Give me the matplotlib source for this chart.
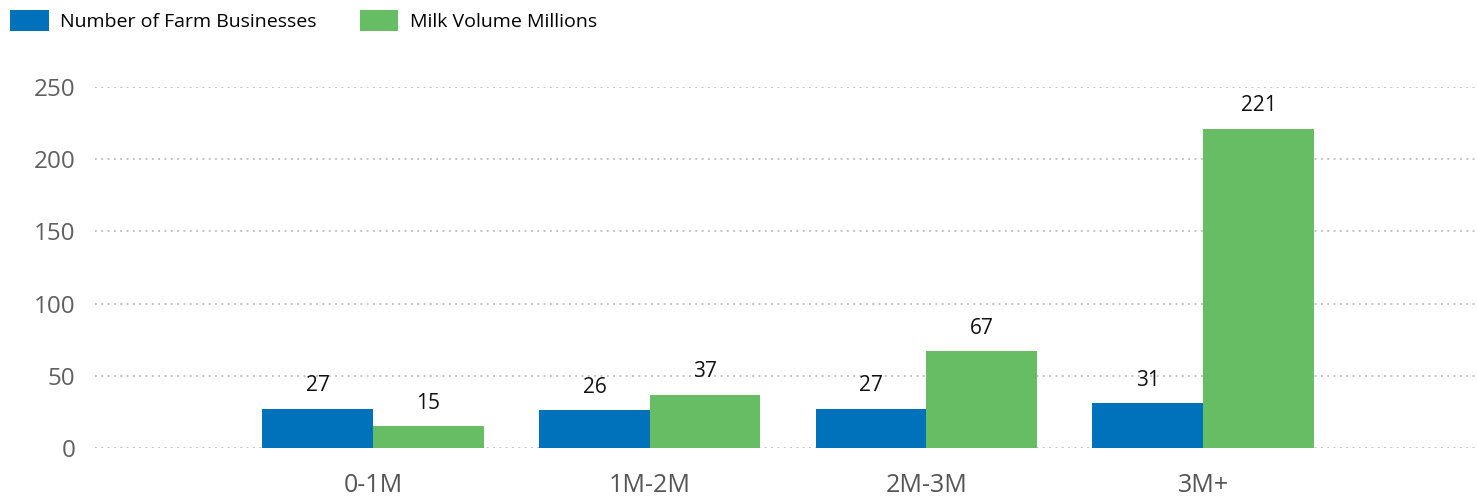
import numpy as np
import matplotlib
matplotlib.use("Agg")
import matplotlib.pyplot as plt

categories = ["0-1M", "1M-2M", "2M-3M", "3M+"]
farm_businesses = [27, 26, 27, 31]
milk_volume = [15, 37, 67, 221]

plt.rcParams["font.family"] = ["Open Sans", "DejaVu Sans"]

blue = "#0072BC"
green = "#66BD63"

fig = plt.figure(figsize=(14.77, 4.97), dpi=100)
ax = fig.add_axes([0.0643, 0.0986, 0.9357, 0.7266])

x = np.arange(len(categories))
w = 0.4
b1 = ax.bar(x - w/2, farm_businesses, w, color=blue, label="Number of Farm Businesses")
b2 = ax.bar(x + w/2, milk_volume, w, color=green, label="Milk Volume Millions")

for bars, vals in ((b1, farm_businesses), (b2, milk_volume)):
    for r, v in zip(bars, vals):
        ax.annotate(str(v), (r.get_x() + r.get_width()/2, r.get_height()),
                    xytext=(0, 9), textcoords="offset points",
                    ha="center", va="bottom", fontsize=15, color="#111111")

ax.set_ylim(0, 250)
ax.set_xlim(-1.005, 3.99)
ax.set_yticks([0, 50, 100, 150, 200, 250])
ax.set_xticks(x)
ax.set_xticklabels(categories)
ax.yaxis.grid(True, linestyle=(0, (1, 2.5)), color="#bbbbbb", linewidth=1.3)
ax.set_axisbelow(True)
for s in ax.spines.values():
    s.set_visible(False)
ax.tick_params(axis="y", length=0, pad=14, labelsize=17.5, labelcolor="#606060")
ax.tick_params(axis="x", length=0, pad=18, labelsize=18, labelcolor="#555555")

fig.legend(loc="upper left", bbox_to_anchor=(0.0, 1.0), ncol=2, frameon=False,
           fontsize=14, handlelength=2.0, handleheight=1.3, handletextpad=0.6,
           columnspacing=2.2, borderaxespad=0.1)

fig.savefig("out.png", dpi=100)
